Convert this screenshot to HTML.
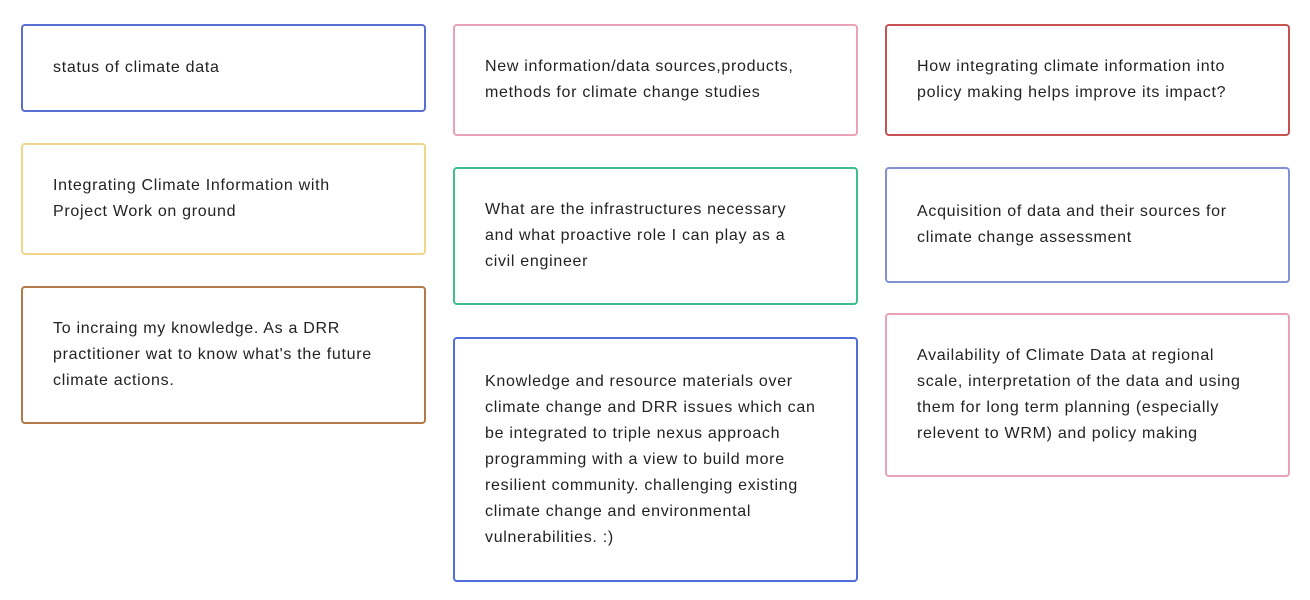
<!DOCTYPE html>
<html><head><meta charset="utf-8"><style>
body{margin:0;width:1310px;height:600px;background:#fff;position:relative;font-family:"Liberation Sans",sans-serif;overflow:hidden}
.b{position:absolute;box-sizing:border-box;border:2px solid;border-radius:4px;display:flex;align-items:center;padding-left:30px;font-size:16px;line-height:26px;color:#222;white-space:nowrap;letter-spacing:0.7px}
</style></head><body>
<div class="b" style="left:21px;top:24px;width:405px;height:88px;border-color:#5a6fd4">status of climate data</div>
<div class="b" style="left:21px;top:143px;width:405px;height:112px;border-color:#f0d68a">Integrating Climate Information with<br>Project Work on ground</div>
<div class="b" style="left:21px;top:286px;width:405px;height:138px;border-color:#b27a48">To incraing my knowledge. As a DRR<br>practitioner wat to know what's the future<br>climate actions.</div>

<div class="b" style="left:453px;top:24px;width:405px;height:112px;border-color:#eaa2b6">New information/data sources,products,<br>methods for climate change studies</div>
<div class="b" style="left:453px;top:167px;width:405px;height:138px;border-color:#3dbf8e">What are the infrastructures necessary<br>and what proactive role I can play as a<br>civil engineer</div>
<div class="b" style="left:453px;top:337px;width:405px;height:245px;border-color:#4f6ed8">Knowledge and resource materials over<br>climate change and DRR issues which can<br>be integrated to triple nexus approach<br>programming with a view to build more<br>resilient community. challenging existing<br>climate change and environmental<br>vulnerabilities. :)</div>

<div class="b" style="left:885px;top:24px;width:405px;height:112px;border-color:#c85252">How integrating climate information into<br>policy making helps improve its impact?</div>
<div class="b" style="left:885px;top:167px;width:405px;height:116px;border-color:#8291d2">Acquisition of data and their sources for<br>climate change assessment</div>
<div class="b" style="left:885px;top:313px;width:405px;height:164px;border-color:#eaa2b6">Availability of Climate Data at regional<br>scale, interpretation of the data and using<br>them for long term planning (especially<br>relevent to WRM) and policy making</div>
</body></html>
